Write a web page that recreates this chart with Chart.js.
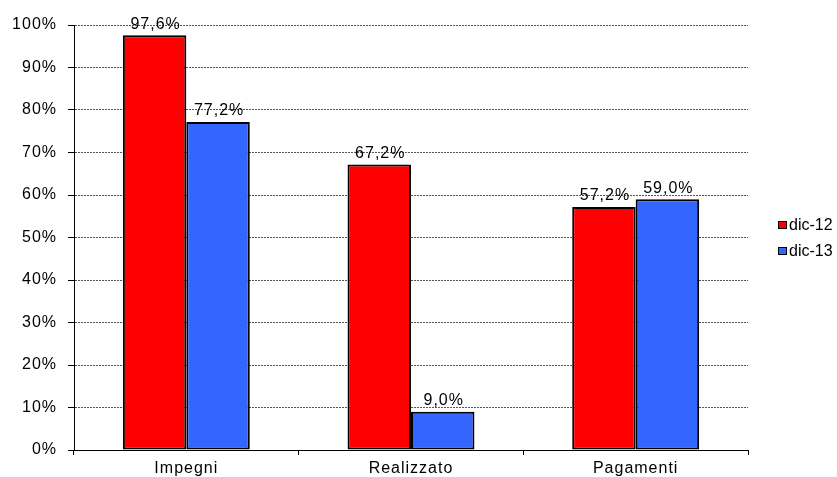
<!DOCTYPE html>
<html>
<head>
<meta charset="utf-8">
<script src="https://cdn.jsdelivr.net/npm/chart.js@4/dist/chart.umd.min.js"></script>
<style>
  html, body { margin: 0; padding: 0; background: #fff; }
  #wrap { width: 837px; height: 477px; }
</style>
</head>
<body>
<div id="wrap"><canvas id="myChart" width="837" height="477"></canvas></div>
<script>
const categories = ['Impegni', 'Realizzato', 'Pagamenti']
const dic12 = [97.6, 67.2, 57.2]
const dic13 = [77.2, 9.0, 59.0]
const seriesNames = ['dic-12', 'dic-13']
const yTicks = [0, 10, 20, 30, 40, 50, 60, 70, 80, 90, 100]

const colors = {
    red: '#FF0000',
    blue: '#3366FF',
    grid: '#555555',
}
const fontFamily = '"Liberation Sans", Arial, sans-serif'

// the original text looks a bit stretched, a little letter spacing helps
const spacing = {
    id: 'spacing',
    beforeUpdate(chart) { chart.ctx.letterSpacing = '1px' },
    beforeDraw(chart) { chart.ctx.letterSpacing = '1px' },
}

// value labels above each bar, Italian decimal comma
const valueLabels = {
    id: 'valueLabels',
    afterDatasetsDraw(chart) {
        const ctx = chart.ctx
        ctx.save()
        ctx.font = '16px ' + fontFamily
        ctx.fillStyle = '#000'
        ctx.textAlign = 'center'
        ctx.textBaseline = 'bottom'
        chart.data.datasets.forEach((ds, i) => {
            chart.getDatasetMeta(i).data.forEach((bar, j) => {
                const txt = ds.data[j].toFixed(1).replace('.', ',') + '%'
                ctx.fillText(txt, bar.x + 1, bar.y - 3)
            })
        })
        ctx.restore()
    },
}

// legend on the right, drawn by hand
const sideLegend = {
    id: 'sideLegend',
    afterDraw(chart) {
        const ctx = chart.ctx
        ctx.save()
        ctx.font = '16px ' + fontFamily
        ctx.textBaseline = 'middle'
        ctx.letterSpacing = '0px'
        chart.data.datasets.forEach((ds, i) => {
            const y = 226 + i * 26
            ctx.fillStyle = ds.backgroundColor
            ctx.fillRect(778.5, y - 4.5, 8, 7)
            ctx.strokeStyle = '#000'
            ctx.lineWidth = 1
            ctx.strokeRect(778.5, y - 4.5, 8, 7)
            ctx.fillStyle = '#000'
            ctx.fillText(seriesNames[i], 789, y)
        })
        ctx.restore()
    },
}

const ctx = document.getElementById('myChart').getContext('2d')
const myChart = new Chart(ctx, {
    type: 'bar',
    data: {
        labels: categories,
        datasets: [
            {
                label: seriesNames[0],
                data: dic12,
                backgroundColor: colors.red,
                borderColor: '#000',
                borderWidth: 2,
                borderSkipped: false,
            },
            {
                label: seriesNames[1],
                data: dic13,
                backgroundColor: colors.blue,
                borderColor: '#000',
                borderWidth: 2,
                borderSkipped: false,
            },
        ],
    },
    options: {
        responsive: false,
        animation: false,
        layout: { padding: { top: 25, right: 89, left: 0, bottom: 0 } },
        datasets: { bar: { categoryPercentage: 0.565, barPercentage: 1 } },
        plugins: {
            legend: { display: false },
            tooltip: { enabled: false },
        },
        scales: {
            x: {
                afterFit(scale) { scale.height = 27 },
                grid: {
                    offset: true,
                    drawOnChartArea: false,
                    drawTicks: true,
                    tickLength: 5,
                    tickColor: '#000',
                },
                border: { color: '#000', width: 1 },
                ticks: {
                    color: '#000',
                    font: { family: fontFamily, size: 16 },
                    padding: 4,
                },
            },
            y: {
                min: 0,
                max: 100,
                afterFit(scale) { scale.width = 74 },
                afterBuildTicks(scale) {
                    scale.ticks = yTicks.map(v => ({ value: v }))
                },
                grid: {
                    color: colors.grid,
                    lineWidth: 1,
                    tickColor: '#000',
                    tickLength: 6,
                    tickBorderDash: [],
                },
                border: { color: '#000', width: 1, dash: [2, 1] },
                ticks: {
                    color: '#000',
                    font: { family: fontFamily, size: 16 },
                    padding: 11,
                    callback: v => v + '%',
                },
            },
        },
    },
    plugins: [spacing, valueLabels, sideLegend],
})
</script>
</body>
</html>
